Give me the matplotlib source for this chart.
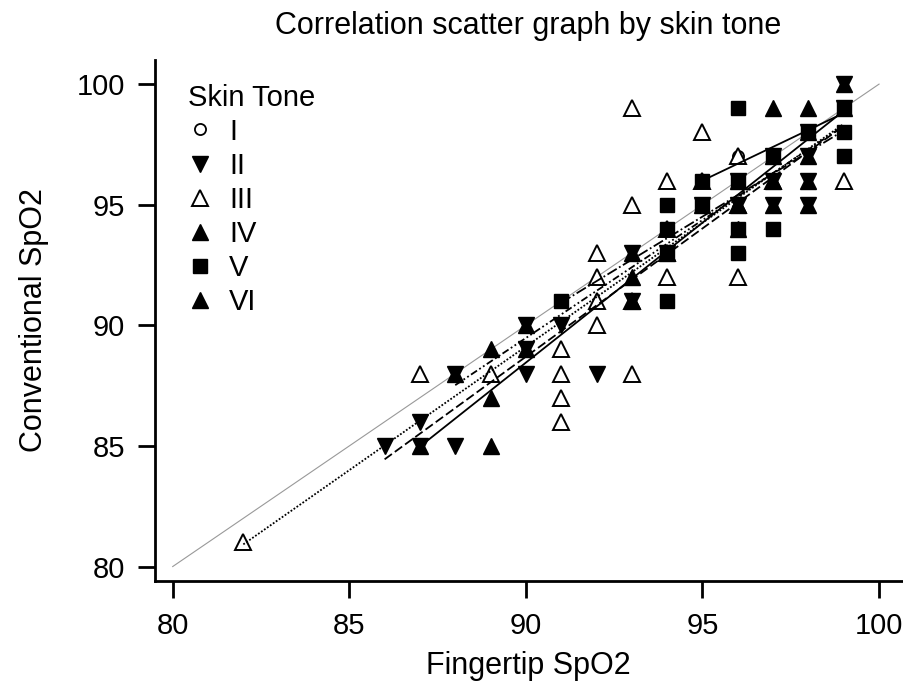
import numpy as np
import matplotlib
matplotlib.use("Agg")
import matplotlib.pyplot as plt
from matplotlib.lines import Line2D

plt.rcParams["font.family"] = ["Liberation Sans", "DejaVu Sans"]

# valeurs (fingertip, conventional)
tone_labels = ["I", "II", "III", "IV", "V", "VI"]

i_x = [95, 96, 97, 98, 99]
i_y = [96, 97, 97, 98, 99]

ii_x = [86, 87, 87, 88, 88, 90, 90, 90, 91, 92, 93, 93, 94, 95, 96, 96, 97, 97, 97, 98, 98, 98, 98, 99, 99]
ii_y = [85, 86, 85, 88, 85, 90, 89, 88, 90, 88, 93, 91, 93, 95, 96, 95, 97, 96, 95, 98, 97, 96, 95, 100, 99]

iii_x = [82, 87, 89, 91, 91, 91, 91, 92, 92, 92, 92, 93, 93, 93, 93, 94, 94, 94, 94, 95, 95, 96, 96, 96, 97, 99]
iii_y = [81, 88, 88, 89, 88, 87, 86, 93, 92, 91, 90, 99, 95, 91, 88, 96, 94, 93, 92, 98, 96, 97, 95, 92, 96, 96]

iv_x = [87, 89, 89, 89, 90, 93, 95, 97, 97, 98, 98, 99]
iv_y = [85, 89, 87, 85, 89, 92, 95, 96, 99, 97, 95, 100]

v_x = [91, 94, 94, 94, 94, 95, 95, 96, 96, 96, 96, 97, 97, 98, 99, 99, 99]
v_y = [91, 95, 94, 93, 91, 96, 95, 99, 96, 94, 93, 97, 94, 98, 98, 97, 99]

vi_x = [88, 90, 93, 93, 94, 96, 96, 96, 97, 97, 98, 98, 98, 99]
vi_y = [88, 90, 93, 91, 93, 95, 94, 96, 95, 97, 98, 96, 99, 99]

ref_line = [80, 100]

groupes = [
    (i_x, i_y, dict(marker="o", ms=8, mfc="white", mec="black", mew=1.3), "-"),
    (ii_x, ii_y, dict(marker="v", ms=12, mfc="black", mec="black", mew=1), (0, (5, 2))),
    (iii_x, iii_y, dict(marker="^", ms=12, mfc="white", mec="black", mew=1.4), (0, (1, 1))),
    (iv_x, iv_y, dict(marker="^", ms=12, mfc="black", mec="black", mew=1), "-"),
    (v_x, v_y, dict(marker="s", ms=9.5, mfc="black", mec="black", mew=1), (0, (6, 1.5, 1, 1.5))),
    (vi_x, vi_y, dict(marker="^", ms=12, mfc="black", mec="black", mew=1), (0, (4, 1.5, 1, 1.5, 1, 1.5))),
]

fig = plt.figure(figsize=(9.04, 6.88), dpi=100)
ax = fig.add_axes([0.1715, 0.1555, 0.8263, 0.7573])

ax.plot(ref_line, ref_line, color="#999999", lw=0.8, zorder=1)

handles = []
for (gx, gy, style, ls), lab in zip(groupes, tone_labels):
    ax.plot(gx, gy, linestyle="none", zorder=3, **style)
    handles.append(Line2D([], [], linestyle="none", **style))

# droite ajustée par groupe
for (gx, gy, style, ls) in groupes:
    gx = np.array(gx)
    gy = np.array(gy)
    pente, orig = np.polyfit(gx, gy, 1)
    xs = np.array([gx.min(), gx.max()])
    ax.plot(xs, pente * xs + orig, color="black", lw=1.3, linestyle=ls, zorder=4)

ax.set_xlim(79.5, 100.65)
ax.set_ylim(79.4, 101.0)
ax.set_xticks([80, 85, 90, 95, 100])
ax.set_yticks([80, 85, 90, 95, 100])
ax.spines["top"].set_visible(False)
ax.spines["right"].set_visible(False)
ax.spines["left"].set_linewidth(2)
ax.spines["bottom"].set_linewidth(2)
ax.tick_params(direction="out", length=12.5, width=2, labelsize=21)
ax.tick_params(axis="x", pad=10)
ax.tick_params(axis="y", pad=9)

ax.set_xlabel("Fingertip SpO2", fontsize=22, labelpad=8)
ax.set_ylabel("Conventional SpO2", fontsize=22, labelpad=20)
ax.set_title("Correlation scatter graph by skin tone", fontsize=22, pad=19)

leg = ax.legend(handles, tone_labels, title="Skin Tone", loc="upper left",
                bbox_to_anchor=(0.017, 0.994), frameon=False, fontsize=21,
                title_fontsize=21, alignment="left", handlelength=0.8,
                handletextpad=0.6, labelspacing=0.21, borderaxespad=0.3)

fig.savefig("out.png", dpi=100)
